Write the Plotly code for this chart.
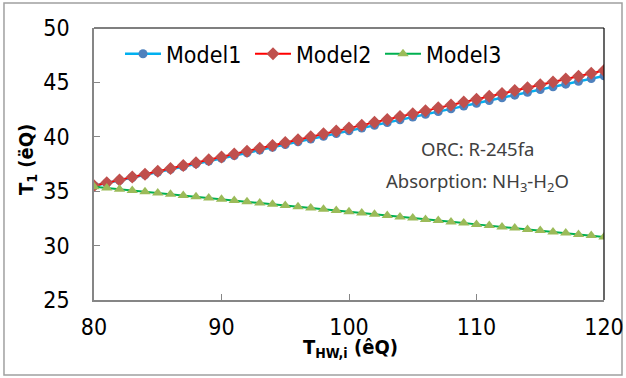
import plotly.graph_objects as go

t_hw = list(range(80, 121))
model1 = [35.50, 35.75, 36.01, 36.26, 36.51, 36.76, 37.02, 37.27, 37.52, 37.77,
          38.03, 38.28, 38.53, 38.78, 39.04, 39.29, 39.54, 39.79, 40.05, 40.30,
          40.55, 40.80, 41.06, 41.31, 41.56, 41.81, 42.07, 42.32, 42.57, 42.82,
          43.08, 43.33, 43.58, 43.83, 44.09, 44.34, 44.59, 44.84, 45.10, 45.35, 45.60]
model2 = [35.50, 35.77, 36.03, 36.30, 36.56, 36.83, 37.09, 37.36, 37.62, 37.89,
          38.15, 38.42, 38.68, 38.95, 39.21, 39.48, 39.74, 40.01, 40.27, 40.54,
          40.80, 41.07, 41.33, 41.60, 41.86, 42.13, 42.39, 42.66, 42.92, 43.19,
          43.45, 43.72, 43.98, 44.25, 44.51, 44.78, 45.04, 45.31, 45.57, 45.84, 46.10]
model3 = [35.40, 35.29, 35.17, 35.06, 34.94, 34.83, 34.71, 34.60, 34.48, 34.37,
          34.25, 34.14, 34.02, 33.91, 33.79, 33.68, 33.56, 33.45, 33.33, 33.22,
          33.10, 32.99, 32.87, 32.76, 32.64, 32.53, 32.41, 32.30, 32.18, 32.07,
          31.95, 31.84, 31.72, 31.61, 31.49, 31.38, 31.26, 31.15, 31.03, 30.92, 30.80]
x_ticks = [80, 90, 100, 110, 120]
y_ticks = [25, 30, 35, 40, 45, 50]

NARROW = "DejaVu Sans Condensed"

fig = go.Figure()
fig.add_trace(go.Scatter(x=t_hw, y=model1, name="Model1", mode="lines+markers",
                         line=dict(color="#00B0F0", width=2.5),
                         marker=dict(symbol="circle", size=9, color="#4F81BD")))
fig.add_trace(go.Scatter(x=t_hw, y=model2, name="Model2", mode="lines+markers",
                         line=dict(color="#FF0000", width=2),
                         marker=dict(symbol="diamond", size=10, color="#C0504D")))
fig.add_trace(go.Scatter(x=t_hw, y=model3, name="Model3", mode="lines+markers",
                         line=dict(color="#00B050", width=2),
                         marker=dict(symbol="triangle-up", size=10, color="#9BBB59")))

fig.update_layout(
    width=626, height=378,
    margin=dict(l=94, r=22, t=28, b=78, autoexpand=False),
    paper_bgcolor="white", plot_bgcolor="white",
    showlegend=True,
    legend=dict(orientation="h", x=0.051, y=0.905, xanchor="left", yanchor="middle",
                font=dict(family=NARROW, size=23, color="black"),
                bgcolor="rgba(0,0,0,0)", itemwidth=36,
                entrywidth=79, entrywidthmode="pixels"),
    xaxis=dict(range=[80, 120], tickvals=x_ticks, showgrid=False, zeroline=False,
               showline=True, linecolor="#868686", linewidth=1.5,
               ticks="inside", ticklen=6, tickcolor="#868686",
               tickfont=dict(family=NARROW, size=23, color="black"),
               ticklabelstandoff=6),
    yaxis=dict(range=[25, 50], tickvals=y_ticks, showgrid=False, zeroline=False,
               showline=True, linecolor="#868686", linewidth=1.5,
               ticks="inside", ticklen=6, tickcolor="#868686",
               tickfont=dict(family=NARROW, size=23, color="black"),
               ticklabelstandoff=18),
)

# top & right black frame lines, outer grey border
fig.add_shape(type="line", xref="paper", yref="paper", x0=0, x1=1, y0=1, y1=1,
              line=dict(color="black", width=1.2))
fig.add_shape(type="line", xref="paper", yref="paper", x0=1, x1=1, y0=0, y1=1,
              line=dict(color="black", width=1.2))
fig.add_shape(type="rect", xref="paper", yref="paper",
              x0=-0.1765, x1=1.0353, y0=-0.2757, y1=1.0919,
              line=dict(color="#A0A0A0", width=1.5), layer="below")

fig.add_annotation(text="ORC: R-245fa", xref="paper", yref="paper",
                   x=0.751, y=0.556, showarrow=False, xanchor="center", yanchor="middle",
                   font=dict(family="Noto Sans, Open Sans, sans-serif", size=18.5, color="#404040"))
fig.add_annotation(text="Absorption: NH<sub>3</sub>-H<sub>2</sub>O", xref="paper", yref="paper",
                   x=0.751, y=0.434, showarrow=False, xanchor="center", yanchor="middle",
                   font=dict(family="Noto Sans, Open Sans, sans-serif", size=18.5, color="#404040"))

fig.add_annotation(text="<b>T<sub>HW,i</sub> (êQ)</b>", xref="paper", yref="paper",
                   x=0.502, y=-0.178, showarrow=False, xanchor="center", yanchor="middle",
                   font=dict(family=NARROW, size=20, color="black"))
fig.add_annotation(text="<b>T<sub>1</sub> (ëQ)</b>", xref="paper", yref="paper",
                   x=-0.131, y=0.515, showarrow=False, textangle=-90,
                   xanchor="center", yanchor="middle",
                   font=dict(family=NARROW, size=20, color="black"))

fig.write_html("out.html", config={"displayModeBar": False},
               post_script="document.body.style.margin='0';")
